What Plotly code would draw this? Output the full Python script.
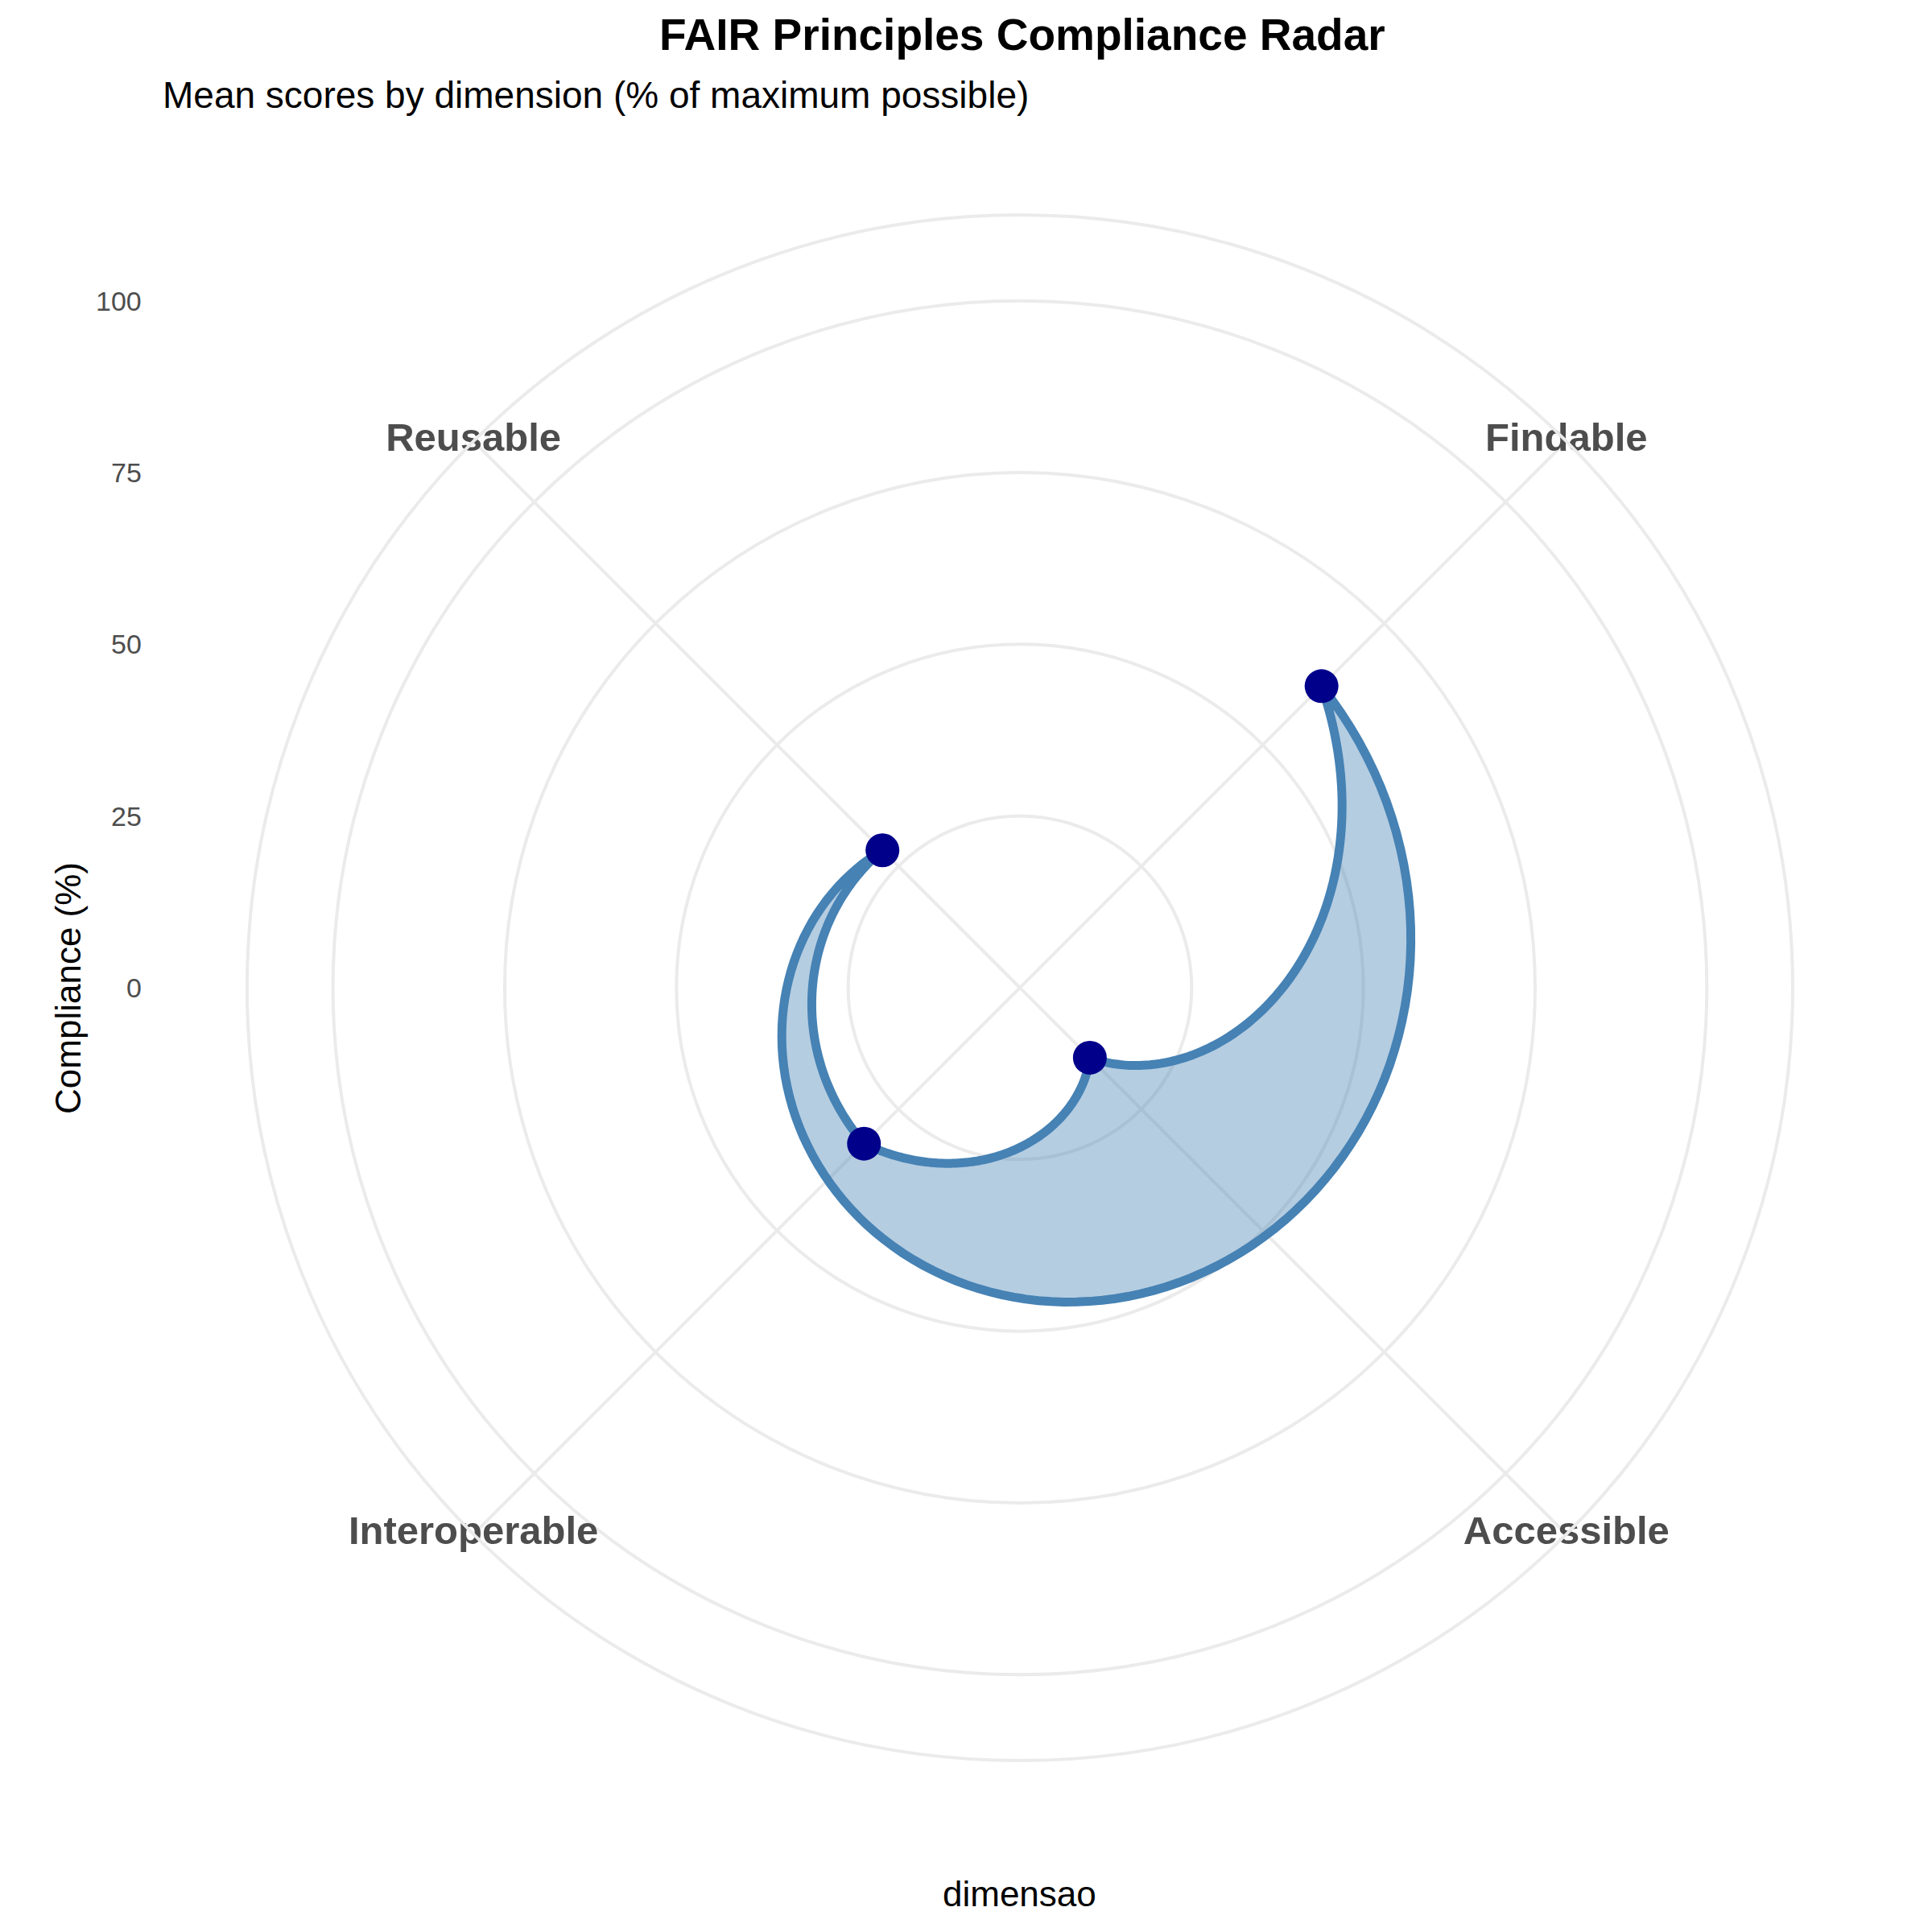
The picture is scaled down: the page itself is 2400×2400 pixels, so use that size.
import numpy as np
import plotly.graph_objects as go

# mean FAIR scores (% of maximum possible)
dimensions = ['Findable', 'Accessible', 'Interoperable', 'Reusable']
scores = [62.1, 14.4, 32.1, 28.3]
radial_ticks = [0, 25, 50, 75, 100]

# discrete theta positions: each category sits in the middle of its quarter
angles = [45 + 90 * i for i in range(len(dimensions))]

# polygon edges in coord_polar are straight in (theta, r) data space,
# so they come out as spirals on screen -> munch each edge
path_theta, path_r = [], []
n = len(scores)
for i in range(n):
    j = (i + 1) % n
    t = np.linspace(0, 1, 120)
    path_theta += list(angles[i] + (angles[j] - angles[i]) * t)
    path_r += list(scores[i] + (scores[j] - scores[i]) * t)

r_max = 112.5
grid = '#ebebeb'
font = 'Liberation Sans, Arial, sans-serif'

fig = go.Figure()
fig.add_trace(go.Scatterpolar(r=path_r, theta=path_theta, mode='lines', fill='toself',
                              fillcolor='rgba(70,130,180,0.4)',
                              line=dict(color='#4682B4', width=11), hoverinfo='skip'))
fig.add_trace(go.Scatterpolar(r=scores, theta=angles, mode='markers',
                              marker=dict(color='#00008B', size=42)))
fig.add_trace(go.Scatterpolar(r=[r_max] * n, theta=angles, mode='text', text=dimensions,
                              textposition='middle center', cliponaxis=False,
                              textfont=dict(family=font, size=49, color='#4d4d4d', weight='bold')))

# page adds ~8px body margin, pull everything back up/left
dx, dy = -8 / 2400, 8 / 2400
cx, cy, rad = 0.5279 + dx, 0.48875 + dy, 0.4
fig.update_layout(
    width=2400, height=2400, showlegend=False,
    margin=dict(l=0, r=0, t=0, b=0),
    paper_bgcolor='white', font=dict(family=font),
    polar=dict(
        domain=dict(x=[cx - rad, cx + rad], y=[cy - rad, cy + rad]),
        bgcolor='white',
        angularaxis=dict(rotation=90, direction='clockwise', tickvals=angles,
                         showticklabels=False, ticks='', gridcolor=grid, gridwidth=4,
                         showline=True, linecolor=grid, linewidth=4),
        radialaxis=dict(range=[0, r_max], tickvals=radial_ticks[1:], showticklabels=False,
                        ticks='', showline=False, gridcolor=grid, gridwidth=4),
    ),
)

ann = [
    dict(text='<b>FAIR Principles Compliance Radar</b>', x=0.529 + dx, y=0.982 + dy,
         xanchor='center', yanchor='middle', font=dict(size=55, color='black')),
    dict(text='Mean scores by dimension (% of maximum possible)', x=0.0833 + dx, y=0.951 + dy,
         xanchor='left', yanchor='middle', font=dict(size=46, color='black')),
    dict(text='Compliance (%)', x=0.0354 + dx, y=cy, textangle=-90, xanchor='center',
         yanchor='middle', font=dict(size=44, color='black')),
    dict(text='dimensao', x=0.5275 + dx, y=0.02 + dy, xanchor='center', yanchor='middle',
         font=dict(size=44, color='black')),
]
for v in radial_ticks:
    ann.append(dict(text=str(v), x=0.0742 + dx, y=cy + v / r_max * rad, xanchor='right',
                    yanchor='middle', font=dict(size=34, color='#4d4d4d')))
for a in ann:
    a.update(xref='paper', yref='paper', showarrow=False)
fig.update_layout(annotations=ann)

fig.write_html("out.html")
